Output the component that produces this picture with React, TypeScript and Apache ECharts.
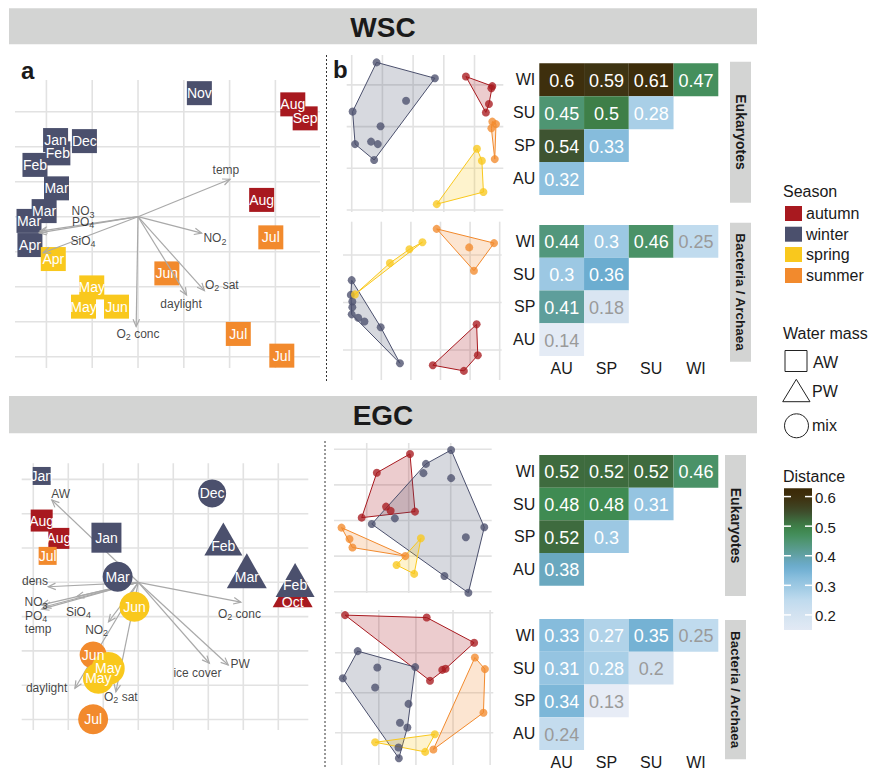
import React, { useEffect, useRef } from 'react';
import * as echarts from 'echarts';

const FONT = '"Liberation Sans", Arial, Helvetica, sans-serif';
const TXT = '#1a1a1a';
const SEASON_COLORS: Record<string, string> = {
  autumn: '#a8191f',
  winter: '#4b506d',
  spring: '#f9c81d',
  summer: '#f28a2d',
};
const seasonOrder = ['autumn', 'winter', 'spring', 'summer'];

// ---------- WSC ordination (panel a) ----------
const wscMonths = ['Nov', 'Aug', 'Sep', 'Jan', 'Dec', 'Feb', 'Feb', 'Mar', 'Mar', 'Mar', 'Apr', 'Apr', 'May', 'May', 'Jun', 'Jun', 'Aug', 'Jul', 'Jul', 'Jul'];
const wscSeasons = ['winter', 'autumn', 'autumn', 'winter', 'winter', 'winter', 'winter', 'winter', 'winter', 'winter', 'winter', 'spring', 'spring', 'spring', 'spring', 'summer', 'autumn', 'summer', 'summer', 'summer'];
const wscPC1 = [1.34, 3.38, 3.65, -1.80, -1.17, -1.75, -2.25, -1.78, -2.05, -2.38, -2.36, -1.85, -1.01, -1.19, -0.47, 0.63, 2.70, 2.90, 2.19, 3.14];
const wscPC2 = [3.53, 3.21, 2.81, 2.19, 2.16, 1.81, 1.48, 0.81, 0.16, -0.12, -0.81, -1.21, -2.02, -2.57, -2.57, -1.62, 0.48, -0.59, -3.35, -3.97];

const wscVars = ['temp', 'NO3', 'PO4', 'SiO4', 'NO2', 'O2 sat', 'daylight', 'O2 conc'];
const wscVarX = [2.01, -2.16, -2.14, -2.07, 1.39, 1.45, 1.06, -0.04];
const wscVarY = [1.07, -0.46, -0.41, -1.03, -0.47, -2.11, -2.24, -3.14];
const wscVarLabX = [1.92, -1.20, -1.20, -1.20, 1.68, 1.83, 0.94, 0.0];
const wscVarLabY = [1.33, 0.16, -0.15, -0.69, -0.61, -1.95, -2.50, -3.35];

// ---------- EGC ordination (panel a) ----------
const egcMonths = ['Jan', 'Aug', 'Aug', 'Jul', 'Jan', 'Dec', 'Feb', 'Mar', 'Oct', 'Feb', 'Mar', 'Jun', 'Jun', 'May', 'May', 'Jul'];
const egcSeasons = ['winter', 'autumn', 'autumn', 'summer', 'winter', 'winter', 'winter', 'winter', 'autumn', 'winter', 'winter', 'spring', 'summer', 'spring', 'spring', 'summer'];
const egcMass = ['AW', 'AW', 'AW', 'AW', 'AW', 'mix', 'PW', 'PW', 'PW', 'PW', 'mix', 'mix', 'mix', 'mix', 'mix', 'mix'];
const egcPC1 = [-2.76, -2.76, -2.27, -2.59, -0.91, 2.11, 2.43, 3.10, 4.41, 4.48, -0.59, -0.11, -1.29, -0.86, -1.14, -1.29];
const egcPC2 = [3.10, 1.80, 1.28, 0.77, 1.30, 2.59, 1.06, 0.16, -0.57, -0.08, 0.16, -0.71, -2.12, -2.51, -2.80, -3.99];
const egcMarkerSize = [18, 22, 21, 18, 30, 28, 38, 40, 40, 39, 30, 30, 27, 33, 31, 30];
// vertical shift (px) between a triangle's label and its symbol centre
const egcTriShift = [0, 0, 0, 0, 0, 0, 7, 6, 12, 5, 0, 0, 0, 0, 0, 0];

const egcVars = ['AW', 'dens', 'NO3', 'PO4', 'temp', 'SiO4', 'NO2', 'daylight', 'O2 sat', 'O2 conc', 'ice cover', 'PW'];
const egcVarX = [-2.47, -2.57, -2.76, -2.76, -2.70, -1.76, -0.85, -1.81, -0.64, 2.93, 2.03, 2.57];
const egcVarY = [2.40, -0.13, -0.66, -0.78, -0.72, -0.42, -1.15, -3.09, -3.19, -0.58, -2.36, -2.41];
const egcVarLabX = [-2.22, -2.95, -2.92, -2.92, -2.86, -1.71, -1.19, -2.62, -0.50, 2.89, 1.69, 2.91];
const egcVarLabY = [2.57, 0.05, -0.58, -0.97, -1.37, -0.86, -1.39, -3.09, -3.34, -0.92, -2.65, -2.38];

// ---------- Panel b: community ordinations per season ----------
const wscEukAutumn = [[3.72, 3.20], [4.58, 2.97], [4.55, 2.92], [4.47, 2.54], [4.37, 2.34]];
const wscEukWinter = [[0.81, 3.54], [2.71, 3.16], [0.73, 1.20], [0.11, 1.58], [0.03, 2.36], [1.77, 2.62], [0.94, 2.01], [0.63, 1.64], [0.85, 1.58]];
const wscEukSpring = [[4.08, 1.47], [4.24, 1.18], [4.29, 0.43], [2.77, 0.14]];
const wscEukSummer = [[4.58, 2.12], [4.70, 2.06], [4.55, 1.96], [4.66, 1.22]];

const wscBacAutumn = [[4.22, 0.54], [4.26, -0.11], [3.79, -0.44], [2.74, -0.32]];
const wscBacWinter = [[0.00, 1.47], [-0.03, 1.16], [0.02, 1.02], [0.02, 0.90], [0.00, 0.75], [0.22, 0.68], [0.43, 0.60], [0.98, 0.48], [1.63, -0.28]];
const wscBacSpring = [[2.39, 2.27], [1.95, 2.12], [1.29, 1.83], [0.11, 1.17]];
const wscBacSummer = [[2.87, 2.55], [4.81, 2.25], [3.97, 2.16], [4.13, 1.67]];

const egcEukAutumn = [[1.03, 3.87], [0.24, 3.34], [-0.12, 2.08], [1.15, 2.25], [0.46, 2.39], [0.57, 2.27]];
const egcEukWinter = [[2.01, 3.98], [1.41, 3.59], [1.35, 3.33], [2.01, 3.19], [2.80, 1.81], [2.36, 1.53], [2.42, -0.03], [1.85, 0.44], [0.12, 1.90], [0.67, 2.06]];
const egcEukSpring = [[1.29, 1.50], [0.71, 0.75], [1.13, 0.50]];
const egcEukSummer = [[-0.60, 1.80], [-0.41, 1.48], [-0.34, 1.24], [0.92, 1.00]];

const egcBacAutumn = [[0.09, 2.94], [2.29, 2.88], [3.57, 2.25], [2.38, 1.30], [2.71, 1.57], [2.80, 1.60]];
const egcBacWinter = [[0.43, 2.04], [0.03, 1.36], [0.96, 1.63], [1.98, 1.64], [0.90, 1.13], [1.80, 0.72], [1.57, 0.25], [1.77, 0.13], [1.53, -0.37], [1.54, -0.64]];
const egcBacSpring = [[0.90, -0.24], [2.51, -0.04], [2.25, -0.48]];
const egcBacSummer = [[3.59, 1.88], [3.86, 1.59], [3.82, 0.50], [2.47, -0.42]];

// ---------- Distance heatmaps (rows top->bottom: WI, SU, SP, AU; columns AU, SP, SU, WI) ----------
const seasonCats = ['AU', 'SP', 'SU', 'WI'];
const wscEukDist = [[0.6, 0.59, 0.61, 0.47], [0.45, 0.5, 0.28], [0.54, 0.33], [0.32]];
const wscBacDist = [[0.44, 0.3, 0.46, 0.25], [0.3, 0.36], [0.41, 0.18], [0.14]];
const egcEukDist = [[0.52, 0.52, 0.52, 0.46], [0.48, 0.48, 0.31], [0.52, 0.3], [0.38]];
const egcBacDist = [[0.33, 0.27, 0.35, 0.25], [0.31, 0.28, 0.2], [0.34, 0.13], [0.24]];

// colour bar
const cbTicks = [0.2, 0.3, 0.4, 0.5, 0.6];
const cbMin = 0.149;
const cbMax = 0.628;

// grid-line breaks for the ordination panels
const wscAGridX = [-2, -1, 0, 1, 2, 3];
const wscAGridY = [-4, -3, -2, -1, 0, 1, 2, 3];
const wscEukGridX = [0, 1, 2, 3, 4];
const wscEukGridY = [0, 1, 2, 3];
const wscBacGridX = [0, 1, 2, 3, 4, 5];
const wscBacGridY = [0, 1, 2];
const egcAGridX = [-3, -2, -1, 0, 1, 2, 3, 4];
const egcAGridY = [-4, -3, -2, -1, 0, 1, 2, 3];
const egcEukGridX = [0, 1, 2];
const egcEukGridY = [0, 1, 2, 3, 4];
const egcBacGridX = [0, 1, 2, 3, 4];
const egcBacGridY = [0, 1, 2, 3];

// ---------- helpers ----------
const DIST_STOPS: [number, string][] = [
  [0.13, '#e7ecf6'], [0.18, '#d9e5f2'], [0.2, '#d3e2f0'], [0.25, '#c0dbee'], [0.28, '#a9cfe7'],
  [0.3, '#9cc8e3'], [0.33, '#86bcdc'], [0.36, '#6cadd0'], [0.38, '#6aa8bf'], [0.41, '#5e9e9b'],
  [0.44, '#52977c'], [0.46, '#4a9267'], [0.48, '#3f8b52'], [0.5, '#3e7f48'], [0.52, '#3e6b3e'],
  [0.54, '#3e5431'], [0.57, '#3e3f1e'], [0.6, '#3e2f0d'], [0.63, '#3b2906'],
];
function hexRgb(h: string) {
  const n = parseInt(h.slice(1), 16);
  return [(n >> 16) & 255, (n >> 8) & 255, n & 255];
}
function distColor(v: number) {
  if (v <= DIST_STOPS[0][0]) return DIST_STOPS[0][1];
  for (let i = 1; i < DIST_STOPS.length; i++) {
    if (v <= DIST_STOPS[i][0]) {
      const [v0, c0] = DIST_STOPS[i - 1];
      const [v1, c1] = DIST_STOPS[i];
      const t = (v - v0) / (v1 - v0);
      const a = hexRgb(c0), b = hexRgb(c1);
      const c = a.map((x, k) => Math.round(x + (b[k] - x) * t));
      return `rgb(${c[0]},${c[1]},${c[2]})`;
    }
  }
  return DIST_STOPS[DIST_STOPS.length - 1][1];
}
function rgba(h: string, a: number) {
  const c = hexRgb(h);
  return `rgba(${c[0]},${c[1]},${c[2]},${a})`;
}
function convexHull(pts: number[][]) {
  const p = pts.slice().sort((a, b) => a[0] - b[0] || a[1] - b[1]);
  const cross = (o: number[], a: number[], b: number[]) => (a[0] - o[0]) * (b[1] - o[1]) - (a[1] - o[1]) * (b[0] - o[0]);
  const lower: number[][] = [];
  for (const q of p) {
    while (lower.length >= 2 && cross(lower[lower.length - 2], lower[lower.length - 1], q) <= 0) lower.pop();
    lower.push(q);
  }
  const upper: number[][] = [];
  for (let i = p.length - 1; i >= 0; i--) {
    const q = p[i];
    while (upper.length >= 2 && cross(upper[upper.length - 2], upper[upper.length - 1], q) <= 0) upper.pop();
    upper.push(q);
  }
  upper.pop();
  lower.pop();
  return lower.concat(upper);
}
function subLabel(name: string) {
  return name.replace(/(\d)/, '{s|$1}');
}

function gridLineSeries(idx: number, xs: number[], ys: number[], ext: number[]) {
  const [x0, x1, y0, y1] = ext;
  const data = [...xs.map((v) => [v, 0]), ...ys.map((v) => [v, 1])];
  return {
    type: 'custom', xAxisIndex: idx, yAxisIndex: idx, z: 0, silent: true, data,
    renderItem: (_p: any, api: any) => {
      const v = api.value(0);
      const f = api.value(1);
      const a = f === 0 ? api.coord([v, y0]) : api.coord([x0, v]);
      const b = f === 0 ? api.coord([v, y1]) : api.coord([x1, v]);
      return { type: 'line', shape: { x1: a[0], y1: a[1], x2: b[0], y2: b[1] }, style: { stroke: '#e2e2e2', lineWidth: 1.6 } };
    },
  };
}

function arrowSeries(idx: number, xs: number[], ys: number[], z: number) {
  return {
    type: 'custom', xAxisIndex: idx, yAxisIndex: idx, z, silent: true,
    data: xs.map((x, i) => [0, 0, x, ys[i]]),
    renderItem: (_p: any, api: any) => {
      const p0 = api.coord([api.value(0), api.value(1)]);
      const p1 = api.coord([api.value(2), api.value(3)]);
      const ang = Math.atan2(p1[1] - p0[1], p1[0] - p0[0]);
      const L = 8, a = Math.PI / 7.5;
      const h1 = [p1[0] - L * Math.cos(ang - a), p1[1] - L * Math.sin(ang - a)];
      const h2 = [p1[0] - L * Math.cos(ang + a), p1[1] - L * Math.sin(ang + a)];
      return {
        type: 'group',
        children: [
          { type: 'line', shape: { x1: p0[0], y1: p0[1], x2: p1[0], y2: p1[1] }, style: { stroke: '#a9a9a9', lineWidth: 1.2 } },
          { type: 'polyline', shape: { points: [h1, p1, h2] }, style: { stroke: '#a9a9a9', lineWidth: 1.2, fill: 'none' } },
        ],
      };
    },
  };
}

function varLabelSeries(idx: number, names: string[], xs: number[], ys: number[], z: number) {
  return {
    type: 'scatter', xAxisIndex: idx, yAxisIndex: idx, z, silent: true,
    symbol: 'circle', symbolSize: 1, itemStyle: { color: 'transparent' },
    data: names.map((n, i) => ({ value: [xs[i], ys[i]], label: subLabel(n) })),
    label: {
      show: true, position: 'inside', color: '#111', fontSize: 12, fontFamily: FONT,
      formatter: (p: any) => p.data.label,
      rich: { s: { fontSize: 9, color: '#111', fontFamily: FONT, padding: [7, 0, 0, 0] } },
    },
  };
}

function hullSeries(idx: number, groups: number[][][]) {
  const out: any[] = [];
  groups.forEach((pts, gi) => {
    const color = SEASON_COLORS[seasonOrder[gi]];
    const hull = convexHull(pts);
    out.push({
      type: 'custom', xAxisIndex: idx, yAxisIndex: idx, z: 1, silent: true, data: hull,
      renderItem: (params: any, api: any) => {
        if (params.dataIndex !== 0) return null;
        const pp = hull.map((q) => api.coord(q));
        return { type: 'polygon', shape: { points: pp }, style: { fill: rgba(color, 0.22), stroke: color, lineWidth: 1 } };
      },
    });
  });
  const pointsData: any[] = [];
  groups.forEach((pts, gi) => {
    pts.forEach((q) => pointsData.push({ value: q, itemStyle: { color: SEASON_COLORS[seasonOrder[gi]] } }));
  });
  out.push({
    type: 'scatter', xAxisIndex: idx, yAxisIndex: idx, z: 2, silent: true,
    symbol: 'circle', symbolSize: 8, itemStyle: { opacity: 0.78 }, data: pointsData,
  });
  return out;
}

function heatSeries(idx: number, rows: number[][]) {
  const data: number[][] = [];
  rows.forEach((r, ri) => {
    const yIdx = 3 - ri; // AU at bottom
    r.forEach((v, ci) => data.push([ci, yIdx, v]));
  });
  return {
    type: 'custom', xAxisIndex: idx, yAxisIndex: idx, z: 2, silent: true, data,
    renderItem: (_p: any, api: any) => {
      const c = api.coord([api.value(0), api.value(1)]);
      const s = api.size([1, 1]);
      const v = api.value(2);
      return {
        type: 'group',
        children: [
          { type: 'rect', shape: { x: c[0] - s[0] / 2, y: c[1] - s[1] / 2, width: s[0], height: s[1] }, style: { fill: distColor(v) } },
          {
            type: 'text',
            style: {
              text: String(v), x: c[0], y: c[1] + 1, align: 'center', verticalAlign: 'middle',
              fill: v < 0.26 ? '#9a9a9a' : '#ffffff', fontSize: 18, fontFamily: FONT,
            },
          },
        ],
      };
    },
  };
}

function valueAxis(gridIndex: number, min: number, max: number) {
  return { type: 'value', gridIndex, min, max, show: false };
}
function catAxis(gridIndex: number, data: string[], showLabel: boolean, margin: number) {
  return {
    type: 'category', gridIndex, data,
    axisLine: { show: false }, axisTick: { show: false }, splitLine: { show: false },
    axisLabel: { show: showLabel, fontSize: 16, color: TXT, margin, fontFamily: FONT },
  };
}

function buildOption() {
  const grids = [
    { left: 15, top: 80, width: 305, height: 288 },
    { left: 346.7, top: 55, width: 156.6, height: 157 },
    { left: 343, top: 221.7, width: 158.7, height: 158.3 },
    { left: 539.3, top: 63.3, width: 179, height: 131.7 },
    { left: 539.3, top: 225, width: 179, height: 131 },
    { left: 21.7, top: 463.3, width: 286.6, height: 266.7 },
    { left: 334, top: 443, width: 157.7, height: 150 },
    { left: 335, top: 610, width: 158.3, height: 155 },
    { left: 539.3, top: 455, width: 179, height: 130.7 },
    { left: 539.3, top: 619, width: 179, height: 131 },
    { left: 784, top: 488.3, width: 28, height: 141.7 },
  ];
  const ext: Record<number, number[]> = {
    0: [-2.686, 3.974, -4.323, 3.906],
    1: [-0.163, 4.938, -0.048, 3.717],
    2: [-0.294, 5.068, -0.632, 2.701],
    5: [-3.331, 4.857, -4.306, 3.469],
    6: [-0.779, 2.976, -0.037, 4.177],
    7: [-0.181, 4.086, -0.808, 3.068],
  };
  const xAxis: any[] = [];
  const yAxis: any[] = [];
  for (let i = 0; i < grids.length; i++) {
    if (ext[i]) {
      xAxis.push(valueAxis(i, ext[i][0], ext[i][1]));
      yAxis.push(valueAxis(i, ext[i][2], ext[i][3]));
    } else if (i === 10) {
      xAxis.push(valueAxis(i, 0, 1));
      yAxis.push(valueAxis(i, cbMin, cbMax));
    } else {
      const showX = i === 4 || i === 9;
      xAxis.push(catAxis(i, seasonCats, showX, 4));
      yAxis.push(catAxis(i, seasonCats, true, 4));
    }
  }

  const series: any[] = [];
  // grid lines
  series.push(gridLineSeries(0, wscAGridX, wscAGridY, ext[0]));
  series.push(gridLineSeries(1, wscEukGridX, wscEukGridY, ext[1]));
  series.push(gridLineSeries(2, wscBacGridX, wscBacGridY, ext[2]));
  series.push(gridLineSeries(5, egcAGridX, egcAGridY, ext[5]));
  series.push(gridLineSeries(6, egcEukGridX, egcEukGridY, ext[6]));
  series.push(gridLineSeries(7, egcBacGridX, egcBacGridY, ext[7]));

  // WSC panel a
  series.push({
    type: 'scatter', xAxisIndex: 0, yAxisIndex: 0, z: 2, silent: true,
    symbol: 'rect', symbolSize: [25, 24], itemStyle: { opacity: 1 },
    data: wscMonths.map((m, i) => ({ name: m, value: [wscPC1[i], wscPC2[i]], itemStyle: { color: SEASON_COLORS[wscSeasons[i]], opacity: 1 } })),
    label: { show: true, position: 'inside', color: '#fff', fontSize: 14, fontFamily: FONT, formatter: (p: any) => p.name },
  });
  series.push(arrowSeries(0, wscVarX, wscVarY, 3));
  series.push(varLabelSeries(0, wscVars, wscVarLabX, wscVarLabY, 4));

  // EGC panel a
  series.push(arrowSeries(5, egcVarX, egcVarY, 1));
  series.push({
    type: 'scatter', xAxisIndex: 5, yAxisIndex: 5, z: 2, silent: true, itemStyle: { opacity: 1 },
    data: egcMonths.map((m, i) => {
      const mass = egcMass[i];
      const s = egcMarkerSize[i];
      const item: any = { name: m, value: [egcPC1[i], egcPC2[i]], itemStyle: { color: SEASON_COLORS[egcSeasons[i]], opacity: 1 } };
      if (mass === 'AW') { item.symbol = 'rect'; item.symbolSize = s; }
      else if (mass === 'mix') { item.symbol = 'circle'; item.symbolSize = s; }
      else {
        const h = Math.round(s * 0.88);
        const d = egcTriShift[i];
        item.symbol = 'triangle';
        item.symbolSize = [s, h];
        item.symbolOffset = [0, -d];
        item.label = { offset: [0, d] };
      }
      return item;
    }),
    label: { show: true, position: 'inside', color: '#fff', fontSize: 14, fontFamily: FONT, formatter: (p: any) => p.name },
  });
  series.push(varLabelSeries(5, egcVars, egcVarLabX, egcVarLabY, 4));

  // panel b
  series.push(...hullSeries(1, [wscEukAutumn, wscEukWinter, wscEukSpring, wscEukSummer]));
  series.push(...hullSeries(2, [wscBacAutumn, wscBacWinter, wscBacSpring, wscBacSummer]));
  series.push(...hullSeries(6, [egcEukAutumn, egcEukWinter, egcEukSpring, egcEukSummer]));
  series.push(...hullSeries(7, [egcBacAutumn, egcBacWinter, egcBacSpring, egcBacSummer]));

  // heatmaps
  series.push(heatSeries(3, wscEukDist));
  series.push(heatSeries(4, wscBacDist));
  series.push(heatSeries(8, egcEukDist));
  series.push(heatSeries(9, egcBacDist));

  // colour bar
  const stops: any[] = [];
  for (let k = 0; k <= 24; k++) {
    const v = cbMin + ((cbMax - cbMin) * k) / 24;
    stops.push({ offset: k / 24, color: distColor(v) });
  }
  series.push({
    type: 'custom', xAxisIndex: 10, yAxisIndex: 10, z: 1, silent: true, data: [[0, cbMin]],
    renderItem: (_p: any, api: any) => {
      const a = api.coord([0, cbMin]);
      const b = api.coord([1, cbMax]);
      return {
        type: 'rect', shape: { x: a[0], y: b[1], width: b[0] - a[0], height: a[1] - b[1] },
        style: { fill: new echarts.graphic.LinearGradient(0, 1, 0, 0, stops) },
      };
    },
  });
  series.push({
    type: 'custom', xAxisIndex: 10, yAxisIndex: 10, z: 2, silent: true, data: cbTicks.map((v) => [0, v]),
    renderItem: (_p: any, api: any) => {
      const v = api.value(1);
      const l = api.coord([0, v]);
      const r = api.coord([1, v]);
      return {
        type: 'group',
        children: [
          { type: 'line', shape: { x1: l[0], y1: l[1], x2: l[0] + 7, y2: l[1] }, style: { stroke: '#fff', lineWidth: 1.5 } },
          { type: 'line', shape: { x1: r[0] - 7, y1: r[1], x2: r[0], y2: r[1] }, style: { stroke: '#fff', lineWidth: 1.5 } },
          { type: 'text', style: { text: String(v), x: r[0] + 3, y: r[1] + 1, align: 'left', verticalAlign: 'middle', fill: TXT, fontSize: 15, fontFamily: FONT } },
        ],
      };
    },
  });

  // static decorations
  const T = (text: string, x: number, y: number, size: number, opts: any = {}) => ({
    type: 'text', x, y, z: 10, rotation: opts.rotation || 0,
    style: {
      text, fill: TXT, fontSize: size, fontFamily: FONT, fontWeight: opts.bold ? 'bold' : 'normal',
      align: opts.align || 'left', verticalAlign: 'middle',
    },
  });
  const graphic: any[] = [
    { type: 'rect', shape: { x: 9, y: 8.3, width: 748, height: 36 }, style: { fill: '#d3d4d3' }, z: 5 },
    T('WSC', 383, 27, 28, { bold: true, align: 'center' }),
    { type: 'rect', shape: { x: 9, y: 396, width: 748, height: 37.3 }, style: { fill: '#d3d4d3' }, z: 5 },
    T('EGC', 383, 415, 28, { bold: true, align: 'center' }),
    T('a', 21, 70, 24, { bold: true }),
    T('b', 333, 69, 24, { bold: true }),
    { type: 'line', shape: { x1: 326.5, y1: 55, x2: 326.5, y2: 383 }, style: { stroke: '#333', lineWidth: 1, lineDash: [2, 2] }, z: 5 },
    { type: 'line', shape: { x1: 325, y1: 441, x2: 325, y2: 768 }, style: { stroke: '#333', lineWidth: 1, lineDash: [2, 2] }, z: 5 },
    // strips
    { type: 'rect', shape: { x: 730, y: 61.7, width: 21, height: 141 }, style: { fill: '#d3d4d3' }, z: 5 },
    T('Eukaryotes', 740.5, 132, 14, { bold: true, align: 'center', rotation: -Math.PI / 2 }),
    { type: 'rect', shape: { x: 730, y: 222.7, width: 21, height: 139 }, style: { fill: '#d3d4d3' }, z: 5 },
    T('Bacteria / Archaea', 740.5, 292, 13.5, { bold: true, align: 'center', rotation: -Math.PI / 2 }),
    { type: 'rect', shape: { x: 725, y: 455, width: 21, height: 141 }, style: { fill: '#d3d4d3' }, z: 5 },
    T('Eukaryotes', 735.5, 525.5, 14, { bold: true, align: 'center', rotation: -Math.PI / 2 }),
    { type: 'rect', shape: { x: 725, y: 620, width: 21, height: 139.3 }, style: { fill: '#d3d4d3' }, z: 5 },
    T('Bacteria / Archaea', 735.5, 689.6, 13.5, { bold: true, align: 'center', rotation: -Math.PI / 2 }),
    // legends
    T('Season', 783, 191, 16),
    T('Water mass', 783, 333, 16),
    T('Distance', 783, 476, 16),
    { type: 'rect', shape: { x: 785, y: 350.5, width: 22, height: 21 }, style: { fill: 'none', stroke: '#222', lineWidth: 1 }, z: 5 },
    T('AW', 813, 362, 16),
    { type: 'polygon', shape: { points: [[782.7, 401.7], [810, 401.7], [796.3, 379.3]] }, style: { fill: 'none', stroke: '#222', lineWidth: 1 }, z: 5 },
    T('PW', 812, 391, 16),
    { type: 'circle', shape: { cx: 796.5, cy: 425.8, r: 12 }, style: { fill: 'none', stroke: '#222', lineWidth: 1 }, z: 5 },
    T('mix', 812, 425.5, 16),
  ];
  const swY = [206, 226.7, 247, 268];
  seasonOrder.forEach((s, i) => {
    graphic.push({ type: 'rect', shape: { x: 785, y: swY[i], width: 17, height: 15 }, style: { fill: SEASON_COLORS[s] }, z: 5 });
    graphic.push(T(s, 806, swY[i] + 7.5, 16));
  });

  return {
    animation: false,
    backgroundColor: '#ffffff',
    textStyle: { fontFamily: FONT },
    grid: grids,
    xAxis,
    yAxis,
    series,
    graphic,
  };
}

export default function App() {
  const ref = useRef<HTMLDivElement>(null);
  useEffect(() => {
    const chart = echarts.init(ref.current as HTMLDivElement, null, { renderer: 'svg' });
    chart.setOption(buildOption() as any);
    return () => chart.dispose();
  }, []);
  return <div ref={ref} style={{ position: 'absolute', left: 0, top: 0, width: 873, height: 770, background: '#fff' }} />;
}
